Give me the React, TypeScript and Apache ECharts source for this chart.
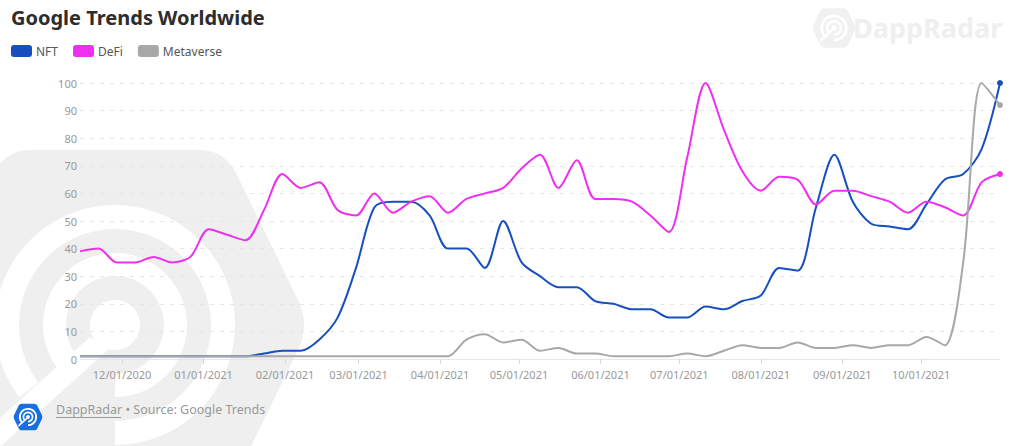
import React, { useEffect, useRef } from "react";
import * as echarts from "echarts";

const START_DATE = Date.UTC(2020, 10, 15);
const WEEK_MS = 7 * 24 * 3600 * 1000;
const END_DATE = START_DATE + 50 * WEEK_MS;

const nftValues = [1,1,1,1,1,1,1,1,1,1,2,3,3,7,15,33,55,57,57,52,40,40,33,50,35,30,26,26,21,20,18,18,15,15,19,18,21,23,33,32,55,74,57,49,48,47,56,65,67,76,100];
const defiValues = [39,40,35,35,37,35,37,47,45,43,54,67,62,64,54,52,60,53,57,59,53,58,60,62,69,74,62,72,58,58,57,52,46,73,100,83,68,61,66,65,56,61,61,59,57,53,57,55,52,64,67];
const metaverseValues = [1,1,1,1,1,1,1,1,1,1,1,1,1,1,1,1,1,1,1,1,1,7,9,6,7,3,4,2,2,1,1,1,1,2,1,3,5,4,4,6,4,4,5,4,5,5,8,5,35,100,92];
const yTicks = [0, 10, 20, 30, 40, 50, 60, 70, 80, 90, 100];

const seriesNames = ["NFT", "DeFi", "Metaverse"];
const seriesColors = ["#1650bd", "#ee2ff0", "#a8a8a8"];
const seriesValues = [nftValues, defiValues, metaverseValues];
const FONT = "'Noto Sans', sans-serif";

echarts.graphic.registerShape(
  "dappHex",
  echarts.graphic.extendPath(
    "M-85 -175 L85 -175 Q110 -175 122 -150 L183 -25 Q195 0 183 25 L122 150 Q110 175 85 175 L-85 175 Q-110 175 -122 150 L-183 25 Q-195 0 -183 -25 L-122 -150 Q-110 -175 -85 -175 Z",
    {}
  )
);

function logo(x: number, y: number, s: number, fill: string, hole: string, z: number) {
  const sector = (r0: number, r: number) => ({
    type: "sector",
    z: z + 1,
    shape: { cx: 0, cy: 0, r0, r, startAngle: (143 * Math.PI) / 180, endAngle: (450 * Math.PI) / 180, clockwise: true },
    style: { fill: hole },
  });
  return {
    type: "group",
    x,
    y,
    scaleX: s,
    scaleY: s,
    silent: true,
    children: [
      { type: "dappHex", z, style: { fill } },
      sector(96, 120),
      sector(49, 72),
      { type: "circle", z: z + 1, shape: { cx: 0, cy: 0, r: 25 }, style: { fill: hole } },
      {
        type: "polygon",
        z: z + 1,
        shape: { points: [[-25, 12], [-125, 102], [-125, 131], [-5, 23]] },
        style: { fill: hole },
      },
    ],
  };
}

export default function App() {
  const ref = useRef<HTMLDivElement>(null);
  useEffect(() => {
    document.body.style.margin = "0";
    const chart = echarts.init(ref.current!, undefined, { renderer: "svg" });
    const toData = (vals: number[]) => vals.map((v, i) => [START_DATE + i * WEEK_MS, v]);
    const lastOnly = (_v: unknown, p: { dataIndex: number }) => (p.dataIndex === 50 ? "circle" : "none");
    chart.setOption({
      animation: false,
      useUTC: true,
      backgroundColor: "#ffffff",
      color: seriesColors,
      title: {
        text: "Google Trends Worldwide",
        left: 11,
        top: 7,
        padding: 0,
        textStyle: { fontFamily: FONT, fontSize: 20, fontWeight: 700, color: "#2d2d2d" },
      },
      legend: {
        left: 11,
        top: 45,
        padding: 0,
        icon: "roundRect",
        itemWidth: 21,
        itemHeight: 12,
        itemGap: 15,
        selectedMode: false,
        textStyle: { fontFamily: FONT, fontSize: 12, color: "#555", padding: [0, 0, 0, -1] },
        data: seriesNames,
      },
      grid: { left: 80, right: 20, top: 83, bottom: 87, containLabel: false },
      xAxis: {
        type: "time",
        min: START_DATE,
        max: END_DATE,
        minInterval: 28 * 24 * 3600 * 1000,
        maxInterval: 31 * 24 * 3600 * 1000,
        axisLine: { lineStyle: { color: "#e6e6e6" } },
        axisTick: { length: 5, lineStyle: { color: "#d8d8d8" } },
        splitLine: { show: false },
        axisLabel: {
          formatter: "{MM}/{dd}/{yyyy}",
          fontFamily: FONT,
          fontSize: 11,
          color: "#999",
          margin: 10,
          showMinLabel: false,
          showMaxLabel: false,
          hideOverlap: false,
        },
      },
      yAxis: {
        type: "value",
        min: yTicks[0],
        max: yTicks[yTicks.length - 1],
        interval: yTicks[1] - yTicks[0],
        axisLine: { show: false },
        axisTick: { show: false },
        splitLine: { lineStyle: { color: "#e6e6e6", type: [4, 6] } },
        axisLabel: { fontFamily: FONT, fontSize: 11, color: "#999", margin: 3 },
      },
      series: seriesValues.map((vals, k) => ({
        name: seriesNames[k],
        type: "line",
        data: toData(vals),
        smooth: 0.3,
        showAllSymbol: true,
        symbol: lastOnly,
        symbolSize: 6,
        lineStyle: { width: 2, color: seriesColors[k] },
        itemStyle: { color: seriesColors[k] },
        z: 2 + k,
      })),
      graphic: {
        elements: [
          logo(115, 325, 1, "#efefef", "#ffffff", -6),
          logo(834, 28, 0.113, "#f1f1f1", "#ffffff", -6),
          logo(28, 417, 0.076, "#1a6fe0", "#ffffff", -3),
          {
            type: "text",
            z: -5,
            x: 853,
            y: 14,
            silent: true,
            style: { text: "DappRadar", fontFamily: FONT, fontSize: 27, fontWeight: 700, fill: "#efefef" },
          },
          {
            type: "text",
            x: 56,
            y: 403,
            silent: true,
            style: { text: "DappRadar • Source: Google Trends", fontFamily: FONT, fontSize: 12.5, fill: "#999" },
          },
          {
            type: "line",
            silent: true,
            shape: { x1: 56, y1: 417.5, x2: 121, y2: 417.5 },
            style: { stroke: "#999", lineWidth: 1 },
          },
        ],
      },
    });
    return () => chart.dispose();
  }, []);
  return <div ref={ref} style={{ position: "fixed", left: 0, top: 0, width: 1020, height: 446 }} />;
}
